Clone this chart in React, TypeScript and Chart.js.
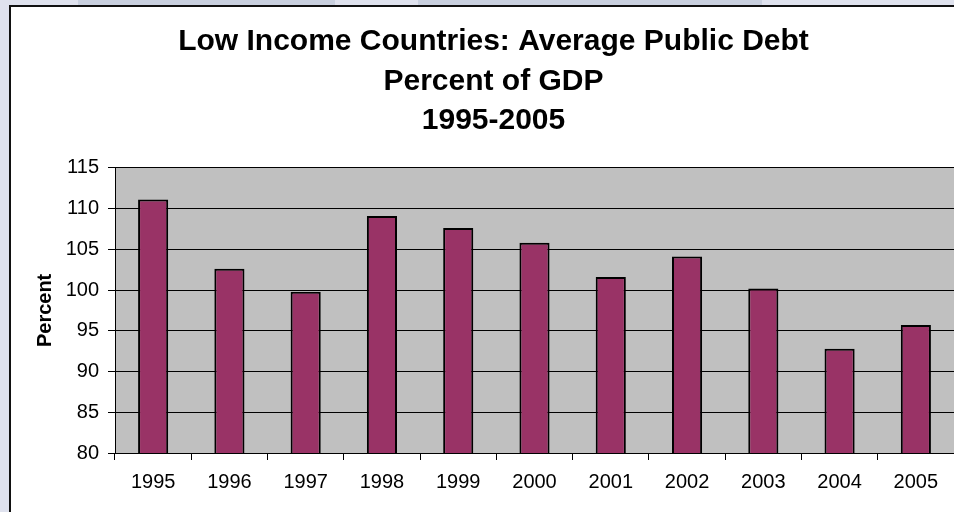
import React, { useEffect, useRef } from "react";
import { Chart, registerables } from "chart.js";

Chart.register(...registerables);

const titleLines = ["Low Income Countries: Average Public Debt", "Percent of GDP", "1995-2005"];
const yAxisTitle = "Percent";
const years = ["1995", "1996", "1997", "1998", "1999", "2000", "2001", "2002", "2003", "2004", "2005"];
const debtValues = [111.1, 102.6, 99.8, 109.1, 107.6, 105.8, 101.6, 104.1, 100.2, 92.8, 95.7];
const yMin = 80;
const yMax = 115;
const yStep = 5;

const plotBackground = {
  id: "plotBackground",
  beforeDraw(chart: any) {
    const { ctx, chartArea } = chart;
    if (!chartArea) return;
    ctx.save();
    ctx.fillStyle = "#c0c0c0";
    ctx.fillRect(chartArea.left, chartArea.top, chartArea.right - chartArea.left, chartArea.bottom - chartArea.top);
    ctx.restore();
  },
};

export default function App() {
  const ref = useRef<HTMLCanvasElement | null>(null);

  useEffect(() => {
    document.body.style.margin = "0";
    if (!ref.current) return;
    const chart = new Chart(ref.current, {
      type: "bar",
      data: {
        labels: years,
        datasets: [
          {
            data: debtValues,
            backgroundColor: "#993366",
            borderColor: "#000000",
            borderWidth: 2,
            barPercentage: 0.395,
            categoryPercentage: 1,
          },
        ],
      },
      options: {
        animation: false,
        responsive: false,
        maintainAspectRatio: false,
        layout: { padding: { left: 33, right: 0, top: 0, bottom: 0 } },
        plugins: {
          legend: { display: false },
          tooltip: { enabled: false },
          title: {
            display: true,
            text: titleLines,
            color: "#000",
            font: { family: "Arial, 'Liberation Sans', sans-serif", size: 30, weight: "bold", lineHeight: 1.32 },
            padding: { top: 22, bottom: 27 },
          },
        },
        scales: {
          x: {
            grid: {
              display: true,
              drawOnChartArea: false,
              drawTicks: true,
              tickLength: 7,
              color: "#000",
              offset: true,
            },
            border: { display: true, color: "#000", width: 1 },
            ticks: {
              color: "#000",
              padding: 10,
              maxRotation: 0,
              autoSkip: false,
              font: { family: "Arial, 'Liberation Sans', sans-serif", size: 20 },
            },
            afterFit: (scale: any) => {
              scale.height = 59;
            },
          },
          y: {
            min: yMin,
            max: yMax,
            grid: { color: "#000", lineWidth: 1, tickLength: 7, drawTicks: true },
            border: { display: true, color: "#000", width: 1 },
            ticks: {
              stepSize: yStep,
              color: "#000",
              padding: 9,
              font: { family: "Arial, 'Liberation Sans', sans-serif", size: 20 },
            },
            title: {
              display: true,
              text: yAxisTitle,
              color: "#000",
              padding: 0,
              font: { family: "Arial, 'Liberation Sans', sans-serif", size: 20, weight: "bold" },
            },
            afterFit: (scale: any) => {
              scale.width = 82;
            },
          },
        },
      },
      plugins: [plotBackground],
    });
    return () => chart.destroy();
  }, []);

  const strip = (left: number, width: number) => (
    <div style={{ position: "absolute", left, top: 0, width, height: 5, background: "#c9d0df" }} />
  );

  return (
    <div style={{ position: "relative", width: 954, height: 512, overflow: "hidden", background: "#dfe2ee" }}>
      {strip(78, 257)}
      {strip(418, 344)}
      <div
        style={{
          position: "absolute",
          left: 9,
          top: 5,
          width: 1000,
          height: 600,
          border: "2px solid #111",
          background: "#ffffff",
          boxSizing: "border-box",
        }}
      />
      <canvas ref={ref} width={954} height={512} style={{ position: "absolute", left: 0, top: 0, width: 954, height: 512 }} />
    </div>
  );
}
